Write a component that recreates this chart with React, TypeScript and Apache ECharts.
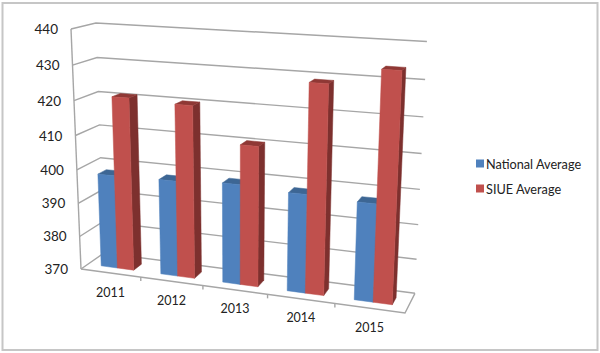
import React, { useEffect, useRef } from "react";
import * as echarts from "echarts";

const categories = ["2011", "2012", "2013", "2014", "2015"];
const nationalValues = [398, 398.3, 399.2, 398.4, 397.8];
const siueValues = [421, 420.3, 410.5, 429, 433.7];
const tickValues = [370, 380, 390, 400, 410, 420, 430, 440];

const GRID = { left: 81, top: 29, width: 324, height: 240 };
const O = [81, 269];
const A = [405, 313];
const B = [71, 29];
const C = [104, 253];
const KU = 0.905, KV = 0.94, KW = 1.045;

function project(u: number, v: number, w: number): number[] {
  const d = 1 + u * (KU - 1) + v * (KV - 1) + w * (KW - 1);
  const f = (i: number) =>
    (O[i] + u * (KU * A[i] - O[i]) + v * (KV * B[i] - O[i]) + w * (KW * C[i] - O[i])) / d;
  return [f(0), f(1)];
}
function toUnit(p: number[]): number[] {
  return [(p[0] - GRID.left) / GRID.width, (GRID.top + GRID.height - p[1]) / GRID.height];
}

const GRID_COLOR = "#a6a6a6";
const lineStyle = { stroke: GRID_COLOR, lineWidth: 1.4, fill: "none" };

const W_FRONT = 0.3, W_BACK = 0.66;
const BAR_U = 0.275; // share of a category band taken by one bar

function barItem(colors: { front: string; side: string; top: string }, slot: number) {
  return (params: any, api: any) => {
    const idx = api.value(0);
    const val = api.value(1);
    const base = toUnit(api.coord([idx, 370]));
    const top = toUnit(api.coord([idx, val]));
    const band = api.size([1, 0])[0] / GRID.width;
    const cu = base[0];
    const u0 = cu + (slot - 1) * BAR_U * band;
    const u1 = u0 + BAR_U * band;
    const v = top[1];
    const poly = (pts: number[][], fill: string) => ({
      type: "polygon",
      shape: { points: pts },
      style: { fill, stroke: fill, lineWidth: 0.5 },
    });
    return {
      type: "group",
      children: [
        poly([project(u1, 0, W_FRONT), project(u1, 0, W_BACK), project(u1, v, W_BACK), project(u1, v, W_FRONT)], colors.side),
        poly([project(u0, v, W_FRONT), project(u1, v, W_FRONT), project(u1, v, W_BACK), project(u0, v, W_BACK)], colors.top),
        poly([project(u0, 0, W_FRONT), project(u1, 0, W_FRONT), project(u1, v, W_FRONT), project(u0, v, W_FRONT)], colors.front),
      ],
    };
  };
}

function wallItem(params: any, api: any) {
  const val = api.value(0);
  const v = toUnit(api.coord([0, val]))[1];
  return {
    type: "polyline",
    shape: { points: [project(0, v, 0), project(0, v, 1), project(1, v, 1)] },
    style: lineStyle,
  };
}

function frameItem(params: any, api: any) {
  const children: any[] = [
    { type: "line", shape: { x1: project(0, 0, 0)[0], y1: project(0, 0, 0)[1], x2: project(0, 1, 0)[0], y2: project(0, 1, 0)[1] }, style: lineStyle },
    { type: "polyline", shape: { points: [project(0, 0, 0), project(1, 0, 0), project(1, 0, 1)] }, style: lineStyle },
  ];
  categories.forEach((_, i) => {
    const u = toUnit([api.coord([i, 370])[0] + api.size([1, 0])[0] / 2, 0])[0];
    if (i < categories.length - 1) {
      const p = project(u, 0, 0);
      children.push({ type: "line", shape: { x1: p[0], y1: p[1], x2: p[0], y2: p[1] + 4 }, style: lineStyle });
    }
  });
  return { type: "group", children };
}

function yLabelItem(params: any, api: any) {
  const val = api.value(0);
  const v = toUnit(api.coord([0, val]))[1];
  const p = project(0, v, 0);
  return {
    type: "text",
    style: {
      x: p[0] - 13,
      y: p[1],
      text: String(val),
      align: "right",
      verticalAlign: "middle",
      fill: "#222",
      font: "13.5px Lato",
    },
  };
}

function xLabelItem(params: any, api: any) {
  const i = api.value(0);
  const u = toUnit([api.coord([i, 370])[0], 0])[0];
  const p = project(u, 0, 0);
  return {
    type: "text",
    style: {
      x: p[0],
      y: p[1] + 19,
      text: categories[i],
      align: "center",
      verticalAlign: "middle",
      fill: "#222",
      font: "12.5px Lato",
    },
  };
}

export default function App() {
  const ref = useRef<HTMLDivElement>(null);
  useEffect(() => {
    const chart = echarts.init(ref.current!, undefined, { renderer: "svg" });
    const hidden = { silent: true, tooltip: { show: false } };
    chart.setOption({
      animation: false,
      backgroundColor: "#fff",
      grid: { left: GRID.left, top: GRID.top, width: GRID.width, height: GRID.height },
      xAxis: { type: "category", data: categories, show: false },
      yAxis: { type: "value", min: 370, max: 440, interval: 10, show: false },
      graphic: [
        {
          type: "rect",
          silent: true,
          z: 0,
          shape: { x: 2.5, y: 3, width: 595, height: 347 },
          style: { fill: "none", stroke: "#c6c6c6", lineWidth: 2 },
        },
      ],
      legend: {
        left: 471,
        top: 152,
        orient: "vertical",
        itemWidth: 8,
        itemHeight: 8,
        itemGap: 12,
        icon: "rect",
        data: ["National Average", "SIUE Average"],
        textStyle: { color: "#222", fontSize: 12.7, fontFamily: "Lato", padding: [0, 0, 0, -3] },
      },
      series: [
        { ...hidden, type: "custom", name: "walls", renderItem: wallItem, data: tickValues.map((t) => [t]), z: 1 },
        { ...hidden, type: "custom", name: "frame", renderItem: frameItem, data: [[0]], z: 1 },
        { ...hidden, type: "custom", name: "yLabels", renderItem: yLabelItem, data: tickValues.map((t) => [t]), z: 1 },
        { ...hidden, type: "custom", name: "xLabels", renderItem: xLabelItem, data: categories.map((_, i) => [i]), z: 1 },
        {
          ...hidden,
          type: "custom",
          name: "National Average",
          renderItem: barItem({ front: "#4f81bd", side: "#3a5f8c", top: "#3d6694" }, 0),
          data: nationalValues.map((v, i) => [i, v]),
          itemStyle: { color: "#4f81bd" },
          z: 2,
        },
        {
          ...hidden,
          type: "custom",
          name: "SIUE Average",
          renderItem: barItem({ front: "#c0504d", side: "#7d302e", top: "#8f3835" }, 1),
          data: siueValues.map((v, i) => [i, v]),
          itemStyle: { color: "#c0504d" },
          z: 3,
        },
      ],
    });
    return () => chart.dispose();
  }, []);
  return <div ref={ref} style={{ width: 600, height: 353, position: "fixed", left: 0, top: 0 }} />;
}
